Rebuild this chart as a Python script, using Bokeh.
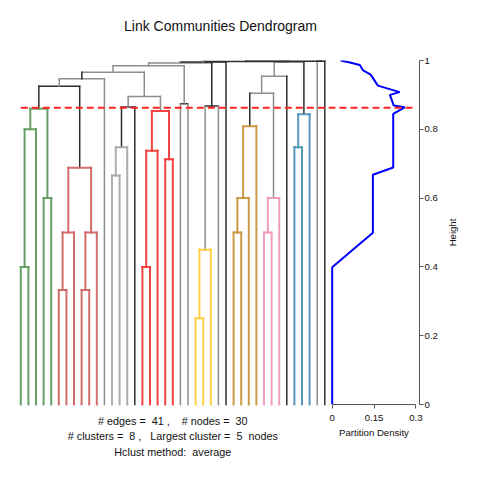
import math
import numpy as np
from bokeh.plotting import figure
from bokeh.layouts import row
from bokeh.models import Range1d, FixedTicker, ColumnDataSource
from bokeh.core.properties import value
from bokeh.embed import file_html
from bokeh.resources import INLINE

# ---------------- data ----------------
n_edges = 41
n_nodes = 30
n_leaves = 41
# hclust-style merges: negative = leaf (position in dendrogram order, 1-based), positive = earlier merge (1-based)
merge_a = [-1, 1, -4, 2, -6, 5, -9, 7, 6, 4, 10, -13, 12, 13, -17, 15, -20, 16, 14, 11,
           -22, 20, -24, 23, 24, 22, 26, -29, 28, 29, -33, 31, 30, 33, -37, 35, 34, 27, -40, 38]
merge_b = [-2, -3, -5, 3, -7, -8, -10, -11, 8, 9, -12, -14, -15, -16, -18, -19, -21, 17, 18, 19,
           -23, 21, -25, -26, -27, 25, -28, -30, -31, -32, -34, -35, 32, -36, -38, -39, 36, 37, -41, 39]
merge_h = [0.400, 0.800, 0.600, 0.860, 0.333, 0.500, 0.333, 0.500, 0.688, 0.925,
           0.947, 0.666, 0.748, 0.865, 0.400, 0.738, 0.713, 0.853, 0.895, 0.966,
           0.874, 0.985, 0.251, 0.450, 0.868, 0.993, 0.996, 0.500, 0.600, 0.809,
           0.500, 0.600, 0.905, 0.954, 0.748, 0.844, 0.995, 0.997, 0.998, 0.998]
# cluster of each leaf (-1 = not in a cluster)
leaf_cluster = [0] * 5 + [1] * 6 + [-1] + [2] * 3 + [-1] + [3] * 5 + [-1, -1] + [4] * 3 + \
               [-1, -1] + [5] * 4 + [6] * 3 + [-1] + [7] * 3 + [-1, -1]
cluster_colors = ["#5F9C5F", "#D06666", "#A9A9A9", "#F23A3A", "#FFCC3C", "#C9963E", "#F099BA", "#4E93B6"]
cut_height = 0.863
n_clusters = 8
largest_cluster = 5
hclust_method = "average"

# partition density curve
dens_height = [0.0, 0.399, 0.499, 0.668, 0.689, 0.845, 0.864, 0.869, 0.900, 0.908,
               0.927, 0.959, 0.971, 0.987, 0.995, 1.0]
dens_value = [0.0, 0.0, 0.146, 0.146, 0.219, 0.219, 0.260, 0.221, 0.207, 0.242,
              0.164, 0.138, 0.111, 0.099, 0.060, 0.030]
dens_ticks = [0, 0.15, 0.3]
height_ticks = [0, 0.2, 0.4, 0.6, 0.8, 1]

# ---------------- styles ----------------
DARK = "#2E2E2E"
GREY = "#8E8E8E"
dark_vert = [4, 9, 11, 13, -16, 25, -28, 30, -36, 36, -41, 38, 39]
dark_horiz = [10, 14, 21, 25, 27, 38, 39, 40]
FONT = "Liberation Sans"
TXT = "#111111"
SP = "\u00a0"

# layout constants (pixels)
W, H = 480, 480
SPLIT = 328                      # left panel (dendrogram) / right panel (density)
SPLIT2 = 442                     # density panel / height-label strip
FRAME_TOP, FRAME_BOTTOM = 60, 404
FRAME_RIGHT = 419
LEAF0_PX, LEAF_STEP = 20.3, 7.6
DENS0_PX, DENS_PX_PER_UNIT = 331.7, 278.67

def hx(px):
    return (px - LEAF0_PX) / LEAF_STEP

def hy(py):
    return (FRAME_BOTTOM - py) / (FRAME_BOTTOM - FRAME_TOP)

def dx(px):
    return (px - DENS0_PX) / DENS_PX_PER_UNIT

# ---------------- build dendrogram segments ----------------
node_x, node_h, node_leaves = {}, {}, {}
for i in range(n_leaves):
    node_x[-(i + 1)] = float(i)
    node_h[-(i + 1)] = 0.0
    node_leaves[-(i + 1)] = [i]

seg = dict(x0=[], y0=[], x1=[], y1=[], color=[], width=[])
cseg = dict(x0=[], y0=[], x1=[], y1=[], color=[], width=[])

def add(d, x0, y0, x1, y1, c, w):
    d["x0"].append(x0); d["y0"].append(y0)
    d["x1"].append(x1); d["y1"].append(y1)
    d["color"].append(c); d["width"].append(w)

for k, (a, b, h) in enumerate(zip(merge_a, merge_b, merge_h), start=1):
    xa, xb = node_x[a], node_x[b]
    node_x[k] = (xa + xb) / 2
    node_h[k] = h
    leaves = node_leaves[a] + node_leaves[b]
    node_leaves[k] = leaves
    cl = {leaf_cluster[i] for i in leaves}
    if len(cl) == 1 and min(cl) >= 0 and h < cut_height:
        col = cluster_colors[min(cl)]
        add(cseg, xa, h, xb, h, col, 2.0)
        add(cseg, xa, node_h[a], xa, h, col, 2.0)
        add(cseg, xb, node_h[b], xb, h, col, 2.0)
    else:
        add(seg, xa, h, xb, h, DARK if k in dark_horiz else GREY, 1.5)
        for ch in (a, b):
            add(seg, node_x[ch], node_h[ch], node_x[ch], h, DARK if ch in dark_vert else GREY, 1.5)

def clean(fig):
    fig.outline_line_color = None
    fig.xgrid.visible = False
    fig.ygrid.visible = False
    fig.background_fill_color = "white"
    fig.border_fill_color = "white"
    try:
        fig.frame_align = False
    except Exception:
        pass

# ---------------- left panel: dendrogram + texts ----------------
left = figure(width=SPLIT, height=H,
              x_range=Range1d(hx(0), hx(SPLIT)), y_range=Range1d(hy(H), hy(0)),
              output_backend="svg", toolbar_location=None,
              x_axis_location=None, y_axis_location=None,
              min_border_left=0, min_border_right=0, min_border_top=0, min_border_bottom=0)
clean(left)
left.segment("x0", "y0", "x1", "y1", source=ColumnDataSource(seg), line_color="color",
             line_width="width", line_cap="square")
left.segment("x0", "y0", "x1", "y1", source=ColumnDataSource(cseg), line_color="color",
             line_width="width", line_cap="square", line_alpha=0.95)
left.segment(x0=[0], y0=[cut_height], x1=[hx(SPLIT)], y1=[cut_height],
             line_color="#FF2424", line_width=2, line_dash="7 4")

left.text(x=[hx(220)], y=[hy(25)], text=["Link Communities Dendrogram"],
          text_align="center", text_baseline="middle",
          text_font=value(FONT), text_font_size="14px", text_color=TXT)
center_leaf = (n_leaves - 1) / 2
lines = ["# edges =%s%d ,%s# nodes =%s%d" % (SP * 2, n_edges, SP * 4, SP * 2, n_nodes),
         "# clusters =%s%d ,%sLargest cluster =%s%d%snodes" % (SP * 2, n_clusters, SP * 3, SP * 2,
                                                            largest_cluster, SP * 2),
         "Hclust method:%s%s" % (SP * 2, hclust_method)]
left.text(x=[center_leaf] * 3, y=[hy(420), hy(435.5), hy(451)], text=lines,
          text_align="center", text_baseline="middle",
          text_font=value(FONT), text_font_size="10.8px", text_color=TXT)

# ---------------- middle panel: partition density ----------------
right = figure(width=SPLIT2 - SPLIT, height=H,
               x_range=Range1d(dx(SPLIT), dx(FRAME_RIGHT)), y_range=Range1d(0, 1),
               output_backend="svg", toolbar_location=None,
               x_axis_location="below", y_axis_location="right",
               min_border_left=0, min_border_right=SPLIT2 - FRAME_RIGHT,
               min_border_top=FRAME_TOP, min_border_bottom=H - FRAME_BOTTOM)
clean(right)
right.line(dens_value, dens_height, line_color="#0000FF", line_width=2)
right.segment(x0=[dx(SPLIT)], y0=[cut_height], x1=[0.288], y1=[cut_height],
              line_color="#FF2424", line_width=2, line_dash="7 4")

def style_axis(ax):
    ax.minor_tick_line_color = None
    ax.major_tick_out = 4
    ax.major_tick_in = 0
    ax.axis_line_color = "#555555"
    ax.major_tick_line_color = "#555555"
    ax.major_label_text_font = FONT
    ax.major_label_text_font_size = "9.6px"
    ax.major_label_text_color = TXT
    ax.axis_label_text_font = FONT
    ax.axis_label_text_font_size = "9.6px"
    ax.axis_label_text_font_style = "normal"
    ax.axis_label_text_color = TXT

ya = right.yaxis[0]
ya.ticker = FixedTicker(ticks=height_ticks)
ya.major_label_overrides = {t: ("%g" % t) for t in height_ticks}
style_axis(ya)
ya.major_label_standoff = 1

xa_ = right.xaxis[0]
xa_.bounds = (0, 0.3)
xa_.ticker = FixedTicker(ticks=dens_ticks)
xa_.major_label_overrides = {t: ("%g" % t) for t in dens_ticks}
xa_.axis_label = "Partition Density"
style_axis(xa_)
xa_.major_label_standoff = 6
xa_.axis_label_standoff = 3

# ---------------- right strip: "Height" axis title ----------------
strip = figure(width=W - SPLIT2, height=H,
               x_range=Range1d(SPLIT2, W), y_range=Range1d(hy(H), hy(0)),
               output_backend="svg", toolbar_location=None,
               x_axis_location=None, y_axis_location=None,
               min_border_left=0, min_border_right=0, min_border_top=0, min_border_bottom=0)
clean(strip)
strip.text(x=[452], y=[0.5], text=["Height"], angle=math.pi / 2,
           text_align="center", text_baseline="middle",
           text_font=value(FONT), text_font_size="9.6px", text_color=TXT)

layout = row(left, right, strip, spacing=0)
open("out.html", "w").write(file_html(layout, INLINE))
